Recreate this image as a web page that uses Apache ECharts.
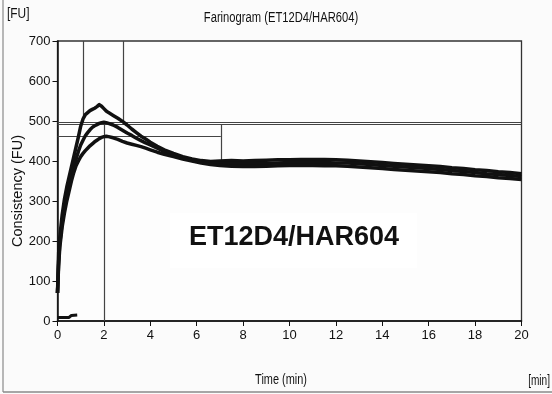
<!DOCTYPE html>
<html>
<head>
<meta charset="utf-8">
<script src="https://cdn.jsdelivr.net/npm/echarts@6/dist/echarts.min.js"></script>
<style>
  html, body { margin: 0; padding: 0; background: #fbfbfb; }
  #chart { width: 552px; height: 394px; }
</style>
</head>
<body>
<div id="chart"></div>
<script>
// Mixing time (min) shared by the three consistency traces
const minutes = [0, 0.05, 0.1, 0.2, 0.3, 0.4, 0.5, 0.6, 0.7, 0.8, 0.9, 1.0,
  1.1, 1.2, 1.3, 1.4, 1.5, 1.6, 1.7, 1.8, 1.9, 2.0, 2.1, 2.2,
  2.4, 2.6, 2.8, 3.0, 3.2, 3.4, 3.6, 3.8, 4.0,
  4.3, 4.6,
  5.0, 5.4, 5.8, 6.2, 6.6, 7.0,
  7.5, 8.0, 8.5, 9.0, 9.5, 10.0, 10.5, 11.0, 11.5, 12.0, 12.5, 13.0, 13.5,
  14.0, 14.5, 15.0, 15.5, 16.0, 16.5, 17.0, 17.5, 18.0, 18.5, 19.0, 19.5, 20.0];

// Consistency (FU), upper trace
const upperFU = [70, 170, 210, 265, 305, 335, 360, 385, 410, 435, 460, 487,
  505, 516, 521, 526, 529, 532, 536, 541, 537, 531, 525, 521,
  514, 507, 499, 490, 480, 471, 462, 455, 447,
  437, 428,
  419, 411, 405, 401, 399, 400,
  401, 400, 401, 402, 403, 403, 404, 404, 404, 403, 402, 400, 398,
  396, 394, 392, 390, 388, 386, 383, 381, 378, 376, 373, 371, 368];

// Consistency (FU), middle trace
const middleFU = [70, 150, 195, 245, 285, 315, 340, 364, 385, 405, 424, 440,
  452, 463, 471, 478, 484, 488, 491, 494, 496, 497, 496, 494,
  490, 484, 477, 470, 464, 457, 451, 445, 440,
  432, 424,
  416, 409, 402, 398, 395, 394,
  394, 393, 393, 394, 395, 396, 396, 396, 396, 395, 395, 393, 391,
  389, 387, 385, 383, 381, 379, 376, 374, 371, 368, 366, 364, 361];

// Consistency (FU), lower trace
const lowerFU = [70, 140, 185, 235, 270, 300, 325, 350, 371, 388, 400, 411,
  419, 426, 432, 438, 443, 448, 452, 456, 459, 461, 462, 461,
  458, 454, 449, 445, 442, 439, 436, 432, 428,
  422, 417,
  411, 405, 400, 395, 391, 389,
  387, 386, 386, 387, 388, 389, 389, 389, 388, 388, 387, 385, 383,
  381, 379, 377, 375, 373, 371, 368, 366, 363, 361, 358, 356, 354];

// Short baseline trace near zero
const baseMinutes = [0, 0.5, 0.6, 0.85];
const baseFU = [9, 9, 14, 15];

// Evaluation guide lines: [[t1, FU1], [t2, FU2]]
const guideLines = [
  [[0, 497], [20, 497]],
  [[0, 492], [20, 492]],
  [[0, 462], [7.04, 462]],
  [[1.1, 700], [1.1, 506]],
  [[2.83, 700], [2.83, 497]],
  [[2.0, 497], [2.0, 0]],
  [[7.04, 492], [7.04, 401]]
];

const xTicks = [0, 2, 4, 6, 8, 10, 12, 14, 16, 18, 20];
const yTicks = [0, 100, 200, 300, 400, 500, 600, 700];

const sans = "'Liberation Sans', Arial, sans-serif";
const pair = (xs, ys) => xs.map((x, i) => [x, ys[i]]);

const traces = [upperFU, middleFU, lowerFU].map(vals => ({
  type: 'line',
  data: pair(minutes, vals),
  showSymbol: false,
  lineStyle: { color: '#111', width: 3.5, join: 'round' },
  itemStyle: { color: '#111' },
  animation: false,
  z: 3
}));

// narrow-looking caption text: a regular face squeezed horizontally
const caption = (text, x, y, size, squeeze, align, extra) => Object.assign({
  type: 'text', x: x, y: y, scaleX: squeeze, scaleY: 1,
  style: { text: text, fill: '#111', font: size + 'px ' + sans, textAlign: align, textVerticalAlign: 'middle' }
}, extra || {});

const chart = echarts.init(document.getElementById('chart'), null, { renderer: 'canvas' });
chart.setOption({
  backgroundColor: '#fbfbfb',
  animation: false,
  grid: {
    left: 57.5, top: 41, width: 464, height: 280,
    show: true, borderColor: '#333', borderWidth: 1.3, backgroundColor: '#fdfdfd'
  },
  xAxis: {
    type: 'value', min: 0, max: 20, interval: 2,
    axisLine: { show: true, lineStyle: { color: '#111', width: 1.5 } },
    axisTick: { show: true, length: 5, lineStyle: { color: '#111' } },
    axisLabel: { color: '#111', fontFamily: sans, fontSize: 13, margin: 8,
      formatter: v => xTicks.includes(v) ? String(v) : '' },
    splitLine: { show: false }
  },
  yAxis: {
    type: 'value', min: 0, max: 700, interval: 100,
    axisLine: { show: true, lineStyle: { color: '#111', width: 1.5 } },
    axisTick: { show: true, length: 5, lineStyle: { color: '#111' } },
    axisLabel: { color: '#111', fontFamily: sans, fontSize: 13, margin: 7,
      formatter: v => yTicks.includes(v) ? String(v) : '' },
    splitLine: { show: false }
  },
  series: [
    {
      type: 'lines',
      coordinateSystem: 'cartesian2d',
      data: guideLines.map(c => ({ coords: c })),
      lineStyle: { color: '#444', width: 1.2, opacity: 1 },
      silent: true,
      animation: false,
      z: 2
    },
    ...traces,
    {
      type: 'line',
      data: pair(baseMinutes, baseFU),
      showSymbol: false,
      lineStyle: { color: '#111', width: 3 },
      animation: false,
      z: 3
    }
  ],
  graphic: [
    // outer frame edges
    { type: 'line', shape: { x1: 3, y1: 0, x2: 3, y2: 392 }, style: { stroke: '#8a8a8a', lineWidth: 1.2 } },
    { type: 'line', shape: { x1: 3, y1: 392, x2: 552, y2: 392 }, style: { stroke: '#8a8a8a', lineWidth: 1.5 } },
    caption('[FU]', 7, 14, 14, 0.85, 'left'),
    caption('Farinogram (ET12D4/HAR604)', 281, 18, 14, 0.8, 'center'),
    caption('Time (min)', 281, 380, 14, 0.78, 'center'),
    caption('[min]', 550, 381, 14, 0.72, 'right'),
    { type: 'text', x: 18, y: 191, rotation: Math.PI / 2,
      style: { text: 'Consistency (FU)', fill: '#111', font: '14.5px ' + sans, textAlign: 'center', textVerticalAlign: 'middle' } },
    { type: 'rect', shape: { x: 170, y: 213, width: 247, height: 55 }, style: { fill: '#ffffff' }, z: 10 },
    { type: 'text', x: 294, y: 238, z: 11,
      style: { text: 'ET12D4/HAR604', fill: '#111', font: 'bold 27px ' + sans, textAlign: 'center', textVerticalAlign: 'middle' } }
  ]
});
</script>
</body>
</html>
